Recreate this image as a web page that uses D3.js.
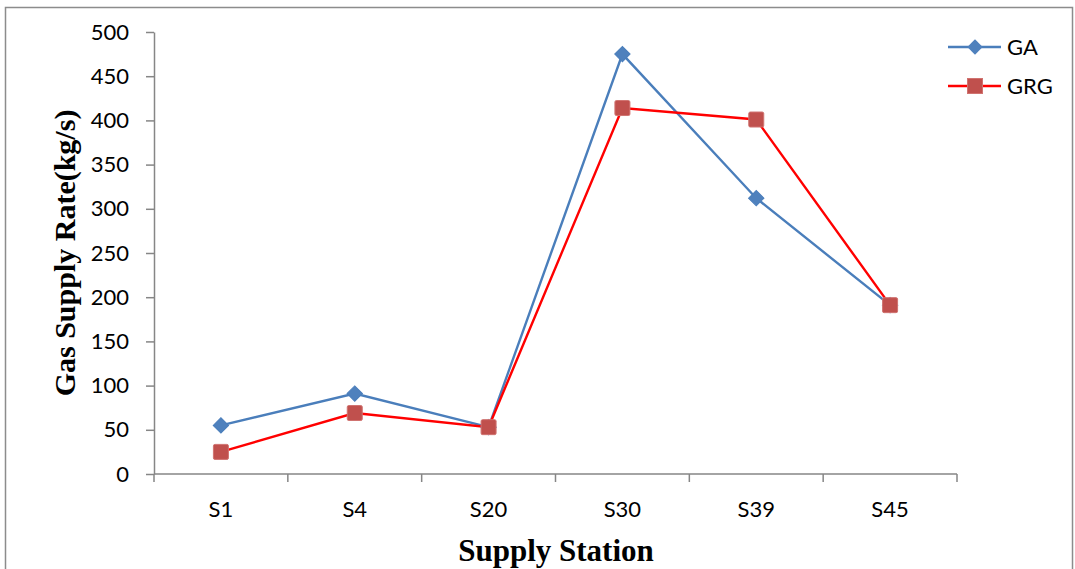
<html>
<head>
<script src='https://d3js.org/d3.v7.min.js'></script>
<style>
  body { margin: 0; background: #fff; }
  text { fill: #000; }
</style>
</head>
<body>
<div id='chart'></div>
<script type='text/javascript'>
  'use strict';
  // data
  var stations = ['S1', 'S4', 'S20', 'S30', 'S39', 'S45'];
  var gaValues = [55, 91, 53, 475, 312, 191];
  var grgValues = [25, 69, 53, 414, 401, 191];
  var yTicks = [0, 50, 100, 150, 200, 250, 300, 350, 400, 450, 500];

  var width = 1075, height = 569;
  var plotLeft = 154, plotRight = 957, plotTop = 32, plotBottom = 474;

  var svg = d3.select('#chart')
    .append('svg')
      .attr('width', width)
      .attr('height', height);

  // outer frame
  svg.append('rect')
    .attr('x', 5.5).attr('y', 7.5)
    .attr('width', 1067).attr('height', 570)
    .attr('fill', 'none')
    .attr('stroke', '#8c8c8c')
    .attr('stroke-width', 1.5);

  var x = d3.scaleBand().domain(stations).range([plotLeft, plotRight]);
  var y = d3.scaleLinear().domain([0, 500]).range([plotBottom, plotTop]);

  var tickFont = 'Lato, "Open Sans", sans-serif';

  // y axis
  var yAxis = svg.append('g')
    .attr('transform', 'translate(' + plotLeft + ',0)')
    .call(d3.axisLeft(y).tickValues(yTicks).tickSize(8).tickSizeOuter(0).tickPadding(17));
  yAxis.selectAll('path, line').attr('stroke', '#868686').attr('stroke-width', 1.5);
  yAxis.selectAll('text')
    .style('font-family', tickFont).style('font-size', '22px');

  // x axis, ticks on band edges
  var xAxis = svg.append('g')
    .attr('transform', 'translate(0,' + plotBottom + ')');
  xAxis.append('line')
    .attr('x1', plotLeft).attr('x2', plotRight)
    .attr('stroke', '#868686').attr('stroke-width', 1.5);
  xAxis.selectAll('.edge')
    .data(stations.concat(['end']))
    .enter()
    .append('line')
      .attr('x1', function (d, i) { return plotLeft + i * x.bandwidth(); })
      .attr('x2', function (d, i) { return plotLeft + i * x.bandwidth(); })
      .attr('y1', 0).attr('y2', 8)
      .attr('stroke', '#868686').attr('stroke-width', 1.5);
  xAxis.selectAll('.lbl')
    .data(stations)
    .enter()
    .append('text')
      .attr('x', function (d) { return x(d) + x.bandwidth() / 2; })
      .attr('y', 43)
      .attr('text-anchor', 'middle')
      .style('font-family', tickFont).style('font-size', '22px')
      .text(function (d) { return d; });

  // axis titles
  svg.append('text')
    .attr('x', 556).attr('y', 561)
    .attr('text-anchor', 'middle')
    .style('font-family', '"Liberation Serif", serif')
    .style('font-weight', 'bold').style('font-size', '31px')
    .text('Supply Station');

  svg.append('text')
    .attr('transform', 'translate(75,253) rotate(-90)')
    .attr('text-anchor', 'middle')
    .style('font-family', '"Liberation Serif", serif')
    .style('font-weight', 'bold').style('font-size', '30px')
    .text('Gas Supply Rate(kg/s)');

  var cx = function (d, i) { return x(stations[i]) + x.bandwidth() / 2; };
  var line = d3.line()
    .x(function (d, i) { return cx(d, i); })
    .y(function (d) { return y(d); });

  // GA series
  svg.append('path')
    .datum(gaValues)
    .attr('d', line)
    .attr('fill', 'none')
    .attr('stroke', '#4a7ebb')
    .attr('stroke-width', 2.4);

  // GRG series
  svg.append('path')
    .datum(grgValues)
    .attr('d', line)
    .attr('fill', 'none')
    .attr('stroke', '#ff0000')
    .attr('stroke-width', 2.4);

  var diamond = d3.symbol().type(d3.symbolSquare).size(118);

  svg.selectAll('.ga')
    .data(gaValues)
    .enter()
    .append('path')
      .attr('d', diamond)
      .attr('transform', function (d, i) { return 'translate(' + cx(d, i) + ',' + y(d) + ') rotate(45)'; })
      .attr('fill', '#4f81bd')
      .attr('stroke', '#4a7ebb');

  svg.selectAll('.grg')
    .data(grgValues)
    .enter()
    .append('rect')
      .attr('x', function (d, i) { return cx(d, i) - 7.5; })
      .attr('y', function (d) { return y(d) - 7.5; })
      .attr('width', 15).attr('height', 15)
      .attr('rx', 1.5)
      .attr('fill', '#c0504d')
      .attr('stroke', '#d07370')
      .attr('stroke-width', 1);

  // legend
  var legend = svg.append('g');
  var items = [
    { name: 'GA', y: 47, color: '#4a7ebb' },
    { name: 'GRG', y: 86, color: '#ff0000' }
  ];
  items.forEach(function (it) {
    legend.append('line')
      .attr('x1', 948).attr('x2', 1001)
      .attr('y1', it.y).attr('y2', it.y)
      .attr('stroke', it.color).attr('stroke-width', 2.4);
    legend.append('text')
      .attr('x', 1007).attr('y', it.y + 8)
      .style('font-family', tickFont).style('font-size', '22px')
      .text(it.name);
  });
  legend.append('path')
    .attr('d', diamond)
    .attr('transform', 'translate(975,47) rotate(45)')
    .attr('fill', '#4f81bd');
  legend.append('rect')
    .attr('x', 967.5).attr('y', 78.5)
    .attr('width', 15).attr('height', 15)
    .attr('fill', '#c0504d').attr('stroke', '#d07370');
</script>
</body>
</html>
